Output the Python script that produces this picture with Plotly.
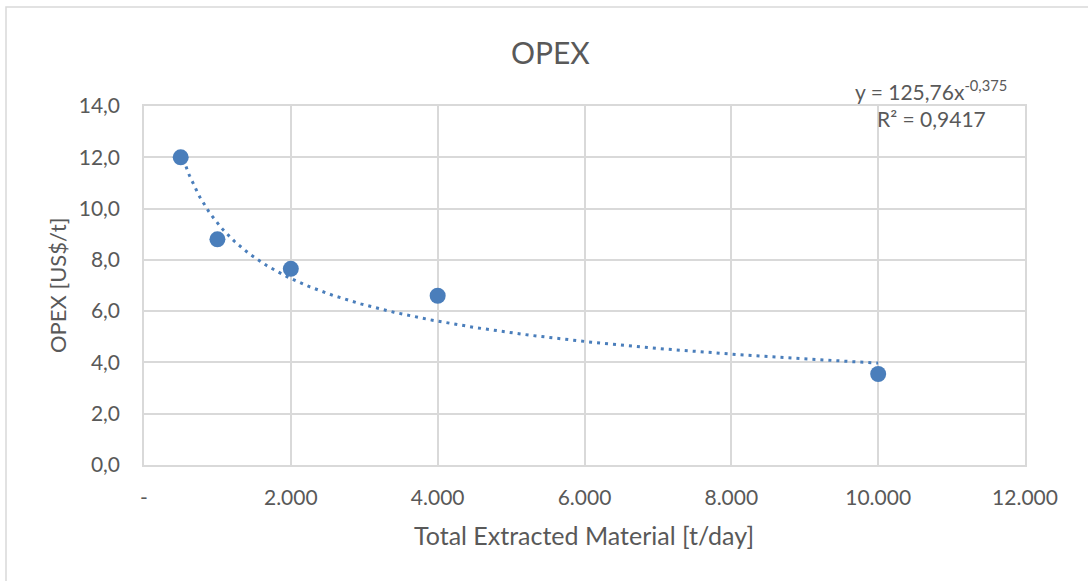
import numpy as np
import plotly.graph_objects as go

# Plant throughput vs. operating cost
throughput_tpd = [500, 1000, 2000, 4000, 10000]
opex_usd_t = [12.0, 8.8, 7.65, 6.6, 3.55]

# Power trendline y = a * x^b (coefficients as reported in the label)
trend_a = 125.76
trend_b = -0.375
trend_r2 = 0.9417

x_tickvals = [0, 2000, 4000, 6000, 8000, 10000, 12000]
x_ticktext = ["-", "2.000", "4.000", "6.000", "8.000", "10.000", "12.000"]
y_tickvals = [0, 2, 4, 6, 8, 10, 12, 14]
y_ticktext = ["0,0", "2,0", "4,0", "6,0", "8,0", "10,0", "12,0", "14,0"]

BLUE = "#4a7ebb"
GRID = "#d9d9d9"
TEXT = "#595959"
FONT = "Lato"

# plot-area geometry in pixels
L, R, T, B = 144, 1025, 106, 465
PW, PH = R - L, B - T


def px(xp):
    return (xp - L) / PW


def py(yp):
    return (B - yp) / PH


trend_x = np.linspace(min(throughput_tpd), max(throughput_tpd), 400)
trend_y = trend_a * trend_x ** trend_b

fig = go.Figure()
fig.add_trace(go.Scatter(
    x=trend_x, y=trend_y, mode="lines",
    line=dict(color=BLUE, width=3, dash="3px,5px"),
    hoverinfo="skip", showlegend=False,
))
fig.add_trace(go.Scatter(
    x=throughput_tpd, y=opex_usd_t, mode="markers",
    marker=dict(color=BLUE, size=16, line=dict(width=0)),
    showlegend=False,
))

fig.update_layout(
    width=1088, height=581,
    margin=dict(l=L, r=1088 - R, t=T, b=581 - B),
    paper_bgcolor="white", plot_bgcolor="white",
    font=dict(family=FONT, color=TEXT, size=21),
    xaxis=dict(
        range=[0, 12000], tickvals=x_tickvals, ticktext=x_ticktext,
        showgrid=True, gridcolor=GRID, gridwidth=1.5,
        showline=True, linecolor=GRID, linewidth=1.5, mirror=True,
        zeroline=False, ticks="", ticklabelstandoff=13,
        tickfont=dict(size=21, color=TEXT, family=FONT),
    ),
    yaxis=dict(
        range=[0, 14], tickvals=y_tickvals, ticktext=y_ticktext,
        showgrid=True, gridcolor=GRID, gridwidth=1.5,
        showline=True, linecolor=GRID, linewidth=1.5, mirror=True,
        zeroline=False, ticks="", ticklabelstandoff=18,
        tickfont=dict(size=21, color=TEXT, family=FONT),
    ),
    shapes=[dict(type="rect", xref="paper", yref="paper",
                 x0=px(6), x1=px(1095), y0=py(590), y1=py(7),
                 line=dict(color=GRID, width=1.5), layer="below")],
    annotations=[
        dict(text="OPEX", xref="paper", yref="paper", x=px(550), y=py(52),
             xanchor="center", yanchor="middle", showarrow=False,
             font=dict(size=30, color=TEXT, family=FONT)),
        dict(text="Total Extracted Material [t/day]", xref="paper", yref="paper",
             x=px(584), y=py(535), xanchor="center", yanchor="middle", showarrow=False,
             font=dict(size=25, color=TEXT, family=FONT)),
        dict(text="OPEX [US$/t]", xref="paper", yref="paper", textangle=-90,
             x=px(57), y=py(286), xanchor="center", yanchor="middle", showarrow=False,
             font=dict(size=22, color=TEXT, family=FONT)),
        dict(text="y = 125,76x<sup>-0,375</sup>", xref="paper", yref="paper",
             x=px(931), y=py(90), xanchor="center", yanchor="middle",
             showarrow=False, font=dict(size=21, color=TEXT, family=FONT)),
        dict(text="R² = 0,9417", xref="paper", yref="paper",
             x=px(931), y=py(118), xanchor="center", yanchor="middle",
             showarrow=False, font=dict(size=21, color=TEXT, family=FONT)),
    ],
)

fig.write_html("out.html")
